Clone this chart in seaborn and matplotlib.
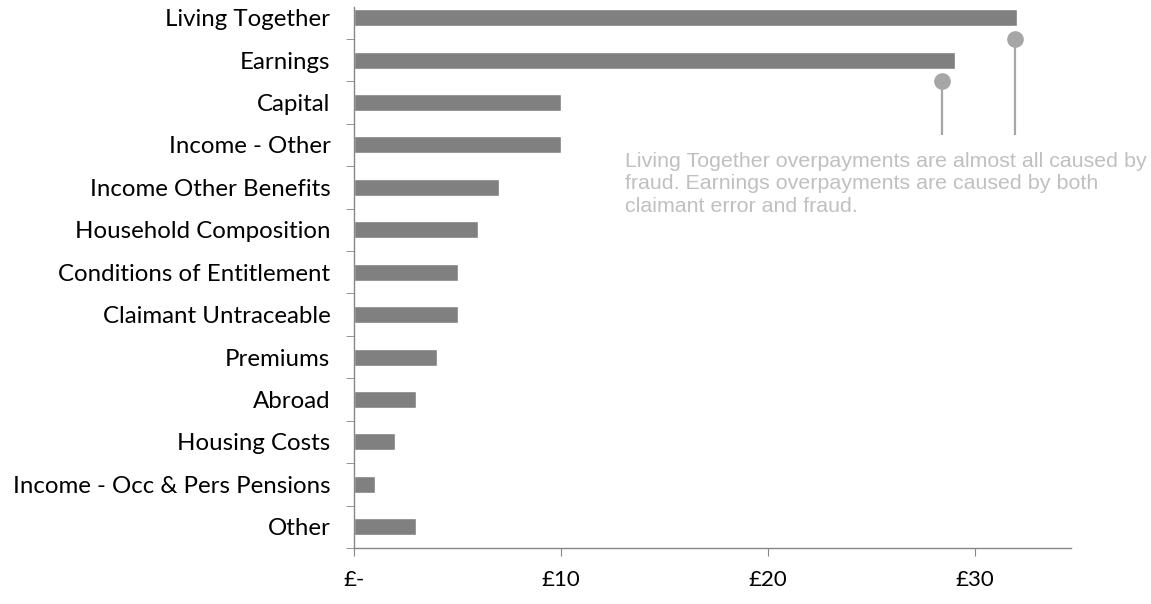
import pandas as pd
import seaborn as sns
import matplotlib.pyplot as plt

categories = ["Living Together", "Earnings", "Capital", "Income - Other",
              "Income Other Benefits", "Household Composition",
              "Conditions of Entitlement", "Claimant Untraceable", "Premiums",
              "Abroad", "Housing Costs", "Income - Occ & Pers Pensions", "Other"]
values = [32, 29, 10, 10, 7, 6, 5, 5, 4, 3, 2, 1, 3]
tick_values = [0, 10, 20, 30]
tick_labels = ["£-", "£10", "£20", "£30"]

df = pd.DataFrame({"reason": categories, "amount": values})

sns.set_style("white")
plt.rcParams["font.family"] = ["Lato", "DejaVu Sans"]

fig = plt.figure(figsize=(11.51, 6.04), dpi=100)
ax = fig.add_axes([0.3076, 0.0927, 0.6225, 0.8957])

sns.barplot(data=df, x="amount", y="reason", color="#808080", width=0.4,
            saturation=1, ax=ax, orient="h")

axcol = "#868686"
ax.set_xlim(0, 34.6)
ax.set_ylim(12.5, -0.25)
ax.set_xlabel("")
ax.set_ylabel("")
ax.set_xticks(tick_values)
ax.set_xticklabels(tick_labels, fontsize=16, color="#000000")
ax.set_yticks(range(len(categories)))
ax.set_yticklabels(categories, fontsize=17.3, color="#000000")
ax.tick_params(axis="y", length=0, pad=17)
ax.tick_params(axis="x", length=6, color=axcol, pad=10, direction="out",
               bottom=True)
for side in ["top", "right"]:
    ax.spines[side].set_visible(False)
for side in ["left", "bottom"]:
    ax.spines[side].set_color(axcol)
    ax.spines[side].set_linewidth(1)

# minor ticks between categories on the y axis
ax.set_yticks([i + 0.5 for i in range(len(categories))], minor=True)
ax.tick_params(axis="y", which="minor", length=6, color=axcol, left=True)

# callout lollipops
callcol = "#a6a6a6"
for val, row, off in [(values[0], 0, 0.1), (values[1], 1, 0.6)]:
    x = val - off
    ax.plot([x, x], [row + 0.5, 2.77], color=callcol, lw=1.6, solid_capstyle="butt")
    ax.plot([x], [row + 0.5], "o", color=callcol, ms=11)

fig.text(625 / 1151, 1 - 152 / 604,
         "Living Together overpayments are almost all caused by\n"
         "fraud. Earnings overpayments are caused by both\n"
         "claimant error and fraud.",
         family="Liberation Sans", fontsize=15.4, color="#c0c0c0",
         va="top", ha="left", linespacing=1.22)

fig.savefig("out.png", dpi=100)
